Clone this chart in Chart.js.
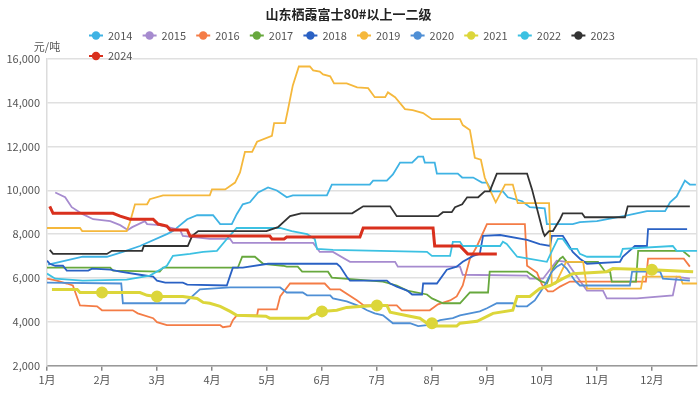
<!DOCTYPE html>
<html>
<head>
<meta charset="utf-8">
<script src="https://cdn.jsdelivr.net/npm/chart.js@4"></script>
<style>
  html, body { margin: 0; padding: 0; background: #fff; }
  #wrap { width: 700px; height: 417px; }
</style>
</head>
<body>
<div id="wrap"><canvas id="chart"></canvas></div>
<script>
// x = month position (0 = 1月初), y = price 元/吨
const monthLabels = ["1月", "2月", "3月", "4月", "5月", "6月", "7月", "8月", "9月", "10月", "11月", "12月"];
const years = ["2014", "2015", "2016", "2017", "2018", "2019", "2020", "2021", "2022", "2023", "2024"];
const colors = ["#3fb3e4", "#a68bcf", "#f47c46", "#67a83d", "#2a61c4", "#f5b83c", "#4f8fd5", "#dcd63a", "#3cc1e2", "#333333", "#d9301d"];
const xEnd = 11.82;

const s2014 = [[0.02,6610],[0.18,6700],[0.65,6970],[1.09,6970],[1.38,7190],[1.69,7460],[2.18,8000],[2.29,8140],[2.55,8680],[2.73,8860],[3.02,8860],[3.15,8460],[3.36,8460],[3.45,8910],[3.56,9360],[3.69,9450],[3.84,9900],[4.02,10130],[4.18,9990],[4.36,9680],[4.47,9770],[5.09,9770],[5.18,10260],[5.87,10260],[5.93,10440],[6.18,10440],[6.29,10720],[6.42,11260],[6.64,11260],[6.75,11530],[6.84,11530],[6.87,11260],[7.05,11260],[7.09,10760],[7.47,10760],[7.55,10580],[7.75,10580],[7.91,10350],[8.0,10350],[8.09,9950],[8.29,9950],[8.38,9680],[8.64,9500],[8.78,9230],[9.05,9180],[9.09,8460],[9.56,8460],[9.69,8550],[10.0,8590],[10.55,8860],[10.91,9050],[11.24,9050],[11.33,9450],[11.45,9720],[11.6,10440],[11.69,10260],[11.8,10260]];
const s2015 = [[0.15,9900],[0.33,9680],[0.45,9230],[0.65,8910],[0.84,8680],[1.15,8590],[1.33,8410],[1.47,8190],[1.55,8320],[1.78,8590],[1.82,8460],[2.05,8410],[2.42,8190],[2.47,7920],[2.96,7780],[3.33,7780],[3.38,7600],[4.84,7600],[4.96,7190],[5.2,7190],[5.51,6740],[6.33,6740],[6.38,6520],[7.51,6520],[7.56,6150],[8.73,6110],[8.78,5970],[9.02,5970],[9.27,6790],[9.45,6740],[9.69,5880],[9.82,5430],[10.11,5430],[10.18,5070],[10.73,5070],[11.38,5210],[11.45,6060],[11.69,5970]];
const s2016 = [[0,5970],[0.18,5880],[0.36,5750],[0.47,5660],[0.6,4750],[0.91,4710],[1.0,4530],[1.56,4530],[1.65,4390],[1.93,4170],[2.0,3990],[2.18,3850],[3.15,3850],[3.2,3760],[3.33,3810],[3.38,4080],[3.45,4300],[3.82,4300],[3.84,4570],[4.18,4570],[4.24,5160],[4.42,5750],[5.05,5750],[5.15,5480],[5.33,5480],[5.64,4980],[5.76,4750],[6.36,4750],[6.45,4530],[6.96,4530],[7.11,4800],[7.33,4980],[7.45,5160],[7.56,5660],[7.69,6880],[7.82,7460],[8.0,8460],[8.69,8460],[8.73,6560],[8.91,6250],[9.0,5700],[9.11,5390],[9.2,5390],[9.33,5610],[9.51,5840],[10.89,5840],[10.93,6880],[11.58,6880],[11.69,6520]];
const s2017 = [[0,6470],[1.15,6470],[1.2,6340],[2.05,6290],[2.11,6470],[3.47,6470],[3.55,6970],[3.78,6970],[3.93,6650],[4.29,6560],[4.36,6520],[4.56,6520],[4.64,6290],[5.11,6290],[5.18,6020],[6.11,5840],[6.36,5660],[6.55,5430],[6.91,5250],[7.0,5070],[7.2,4850],[7.51,4850],[7.69,5340],[8.02,5340],[8.05,6290],[8.73,6290],[8.96,5880],[9.09,5750],[9.2,6430],[9.33,6880],[9.38,6970],[9.45,6740],[10.02,6740],[10.15,6290],[10.24,6290],[10.27,5840],[10.71,5840],[10.75,7240],[11.56,7240],[11.69,6970]];
const s2018 = [[0,6790],[0.05,6650],[0.15,6560],[0.29,6560],[0.36,6340],[0.75,6340],[0.82,6430],[1.15,6380],[1.33,6290],[1.69,6150],[1.93,6060],[2.0,5880],[2.15,5790],[2.47,5790],[2.55,5700],[3.27,5660],[3.33,6110],[3.38,6470],[3.56,6470],[4.02,6650],[5.27,6650],[5.33,6520],[5.45,6060],[5.51,5880],[6.18,5880],[6.24,5750],[6.36,5610],[6.55,5430],[6.64,5250],[6.82,5250],[6.84,5750],[7.09,5750],[7.27,6380],[7.45,6520],[7.56,6740],[7.75,7010],[7.87,7100],[7.93,7920],[8.24,7960],[8.73,7740],[8.96,7550],[9.15,7460],[9.18,7920],[9.38,7920],[9.45,7650],[9.56,7190],[9.69,6880],[9.82,6650],[10.42,6740],[10.47,6970],[10.69,7460],[10.91,7460],[10.93,8230],[11.64,8230]];
const s2019 = [[0,8280],[0.6,8280],[0.64,8140],[1.45,8140],[1.51,8550],[1.6,9360],[1.82,9360],[1.87,9590],[2.11,9770],[2.96,9770],[3.0,10040],[3.24,10040],[3.42,10350],[3.51,10810],[3.6,11750],[3.73,11750],[3.82,12210],[4.09,12480],[4.13,13060],[4.33,13060],[4.38,13650],[4.47,14780],[4.58,15640],[4.78,15640],[4.84,15460],[4.96,15410],[5.02,15280],[5.15,15190],[5.22,14870],[5.45,14870],[5.64,14690],[5.84,14650],[5.96,14240],[6.15,14240],[6.2,14460],[6.33,14240],[6.51,13700],[6.65,13650],[6.84,13520],[7.0,13240],[7.51,13240],[7.56,12970],[7.69,12750],[7.78,11480],[7.89,11390],[7.96,10580],[8.05,10040],[8.16,9450],[8.33,10260],[8.47,10260],[8.56,9410],[9.13,9410],[9.18,5700],[9.25,5750],[9.44,6740],[9.75,6740],[9.82,5520],[10.8,5520],[10.84,6060],[11.51,6060],[11.56,5750],[11.82,5750]];
const s2020 = [[0,5790],[1.35,5750],[1.38,4850],[2.51,4850],[2.6,5070],[2.78,5480],[3.33,5570],[4.24,5570],[4.36,5340],[4.65,5340],[4.73,5210],[5.15,5210],[5.2,5070],[5.45,4940],[5.69,4710],[5.82,4530],[5.96,4390],[6.11,4300],[6.29,3940],[6.6,3940],[6.75,3810],[6.91,3850],[7.15,4080],[7.38,4170],[7.51,4300],[7.87,4480],[8.0,4620],[8.18,4850],[8.47,4850],[8.55,4710],[8.73,4710],[8.87,4980],[9.05,5660],[9.18,6290],[9.27,6520],[9.36,6650],[9.45,6430],[9.6,5880],[9.69,5660],[10.6,5660],[10.64,6290],[11.15,6290],[11.2,5970],[11.69,5880]];
const s2021 = [[0.09,5480],[0.55,5480],[0.6,5340],[1,5340],[1.69,5340],[1.82,5210],[2,5160],[2.47,5160],[2.73,5070],[2.84,4890],[2.96,4850],[3.15,4710],[3.33,4480],[3.45,4300],[3.98,4260],[4.05,4170],[4.75,4170],[4.82,4300],[5,4480],[5.27,4530],[5.45,4660],[5.75,4710],[6,4750],[6.18,4750],[6.24,4440],[6.6,4260],[6.78,4170],[6.91,3940],[7,3940],[7.07,3810],[7.45,3810],[7.51,3940],[7.82,4030],[8.11,4390],[8.47,4530],[8.55,5160],[8.78,5160],[8.96,5520],[9.15,5660],[9.38,5970],[9.56,6200],[10.18,6290],[10.29,6430],[11,6380],[11.75,6290]];
const s2022 = [[0,6200],[0.15,5970],[0.65,5880],[1.45,5930],[1.87,6110],[2.18,6560],[2.29,7010],[2.6,7100],[2.84,7190],[3.09,7240],[3.27,7780],[3.45,8280],[4.24,8280],[4.45,8140],[4.73,8000],[4.87,7780],[4.91,7330],[5.2,7280],[6.91,7190],[7.0,7010],[7.33,7010],[7.38,7650],[7.51,7650],[7.56,7460],[8.24,7460],[8.29,7650],[8.36,7550],[8.55,6970],[9.09,6740],[9.2,7330],[9.29,7780],[9.38,7780],[9.51,7330],[9.64,7330],[9.69,7100],[9.82,6970],[10.42,6970],[10.47,7330],[11.38,7460],[11.45,7240],[11.82,7240]];
const s2023 = [[0.05,7280],[0.11,7100],[1.09,7100],[1.18,7240],[1.73,7240],[1.76,7460],[2.56,7460],[2.64,7920],[2.75,8140],[3.99,8140],[4.2,8320],[4.42,8820],[4.62,8950],[5.55,8950],[5.75,9270],[6.24,9270],[6.36,8820],[7.11,8820],[7.2,9000],[7.36,9000],[7.42,9230],[7.55,9360],[7.64,9680],[7.84,9680],[7.96,9950],[8.05,9950],[8.18,10760],[8.73,10760],[8.82,10040],[9.02,8100],[9.05,7920],[9.13,8140],[9.2,8140],[9.33,8680],[9.38,8950],[9.73,8950],[9.78,8770],[10.51,8770],[10.56,9270],[11.69,9270]];
const s2024 = [[0.05,9270],[0.11,8950],[1.2,8950],[1.33,8820],[1.51,8680],[1.93,8680],[2.02,8460],[2.18,8370],[2.24,8190],[2.55,8190],[2.6,7920],[4.05,7920],[4.09,7780],[4.31,7780],[4.36,7870],[5.69,7870],[5.75,8280],[7.02,8280],[7.05,7460],[7.51,7460],[7.65,7100],[8.18,7100]];

const series = [s2014, s2015, s2016, s2017, s2018, s2019, s2020, s2021, s2022, s2023, s2024];

// thick lines for 2021 and 2024, others normal
const datasets = years.map((y, i) => ({
  label: y,
  data: series[i].map(p => ({ x: p[0], y: p[1] })),
  borderColor: colors[i],
  backgroundColor: colors[i],
  borderWidth: (y === "2024" || y === "2021") ? 3 : 1.8,
  pointRadius: y === "2021" ? (ctx => Number.isInteger(ctx.raw && ctx.raw.x) ? 4.5 : 0) : 0,
  pointHoverRadius: 0,
  tension: 0,
  fill: false,
  order: years.length - i
}));

// legend in echarts style: line + dot, rows of 10, left aligned
const legendPlugin = {
  id: "echartsLegend",
  afterDraw(chart) {
    const ctx = chart.ctx;
    ctx.save();
    ctx.font = "11px 'Noto Sans CJK SC', sans-serif";
    ctx.textBaseline = "middle";
    years.forEach((y, i) => {
      const col = i % 10, row = Math.floor(i / 10);
      const x0 = 89 + col * 53.6;
      const cy = 35.5 + row * 20.5;
      ctx.strokeStyle = colors[i];
      ctx.lineWidth = 2;
      ctx.beginPath();
      ctx.moveTo(x0, cy);
      ctx.lineTo(x0 + 14, cy);
      ctx.stroke();
      ctx.fillStyle = colors[i];
      ctx.beginPath();
      ctx.arc(x0 + 7, cy, 4.2, 0, Math.PI * 2);
      ctx.fill();
      ctx.fillStyle = "#555";
      ctx.textAlign = "left";
      ctx.fillText(y, x0 + 19, cy);
    });
    // unit label
    ctx.fillStyle = "#555";
    ctx.textAlign = "center";
    ctx.fillText("元/吨", 47, 47);
    ctx.restore();
  }
};

new Chart(document.getElementById("chart"), {
  type: "line",
  data: { datasets },
  plugins: [legendPlugin],
  options: {
    responsive: true,
    maintainAspectRatio: false,
    animation: false,
    layout: { padding: { left: 0, right: 3, top: 0, bottom: 29 } },
    plugins: {
      legend: { display: false },
      tooltip: { enabled: false },
      title: {
        display: true,
        text: "山东栖霞富士80#以上一二级",
        color: "#222",
        font: { size: 13, weight: "bold", family: "'Noto Sans CJK SC', sans-serif" },
        padding: { top: 6, bottom: 37 }
      }
    },
    scales: {
      x: {
        type: "linear",
        min: 0,
        max: xEnd,
        // month ticks plus the right edge (used as the frame line)
        afterBuildTicks: s => {
          s.ticks = monthLabels.map((m, i) => ({ value: i })).concat([{ value: xEnd }]);
        },
        ticks: {
          autoSkip: false,
          maxRotation: 0,
          padding: 2,
          color: "#555",
          font: { size: 11, family: "'Noto Sans CJK SC', sans-serif" },
          callback: v => Number.isInteger(v) ? monthLabels[v] : ""
        },
        grid: {
          color: ctx => (ctx.tick && !Number.isInteger(ctx.tick.value)) ? "#e2e2e2" : "rgba(0,0,0,0)",
          tickColor: ctx => (ctx.tick && Number.isInteger(ctx.tick.value)) ? "#888" : "rgba(0,0,0,0)",
          lineWidth: 1.5,
          tickLength: 5
        },
        border: { color: "#999", width: 1.5 }
      },
      y: {
        min: 2000,
        max: 16000,
        ticks: {
          stepSize: 2000,
          padding: 7,
          color: "#555",
          font: { size: 11, family: "'Noto Sans CJK SC', sans-serif" },
          callback: v => v.toLocaleString("en-US")
        },
        grid: { color: "#e0e0e0", lineWidth: 1.5, drawTicks: false },
        border: { color: "#dcdcdc", width: 1.5 },
        afterFit: s => { s.width = 47; }
      }
    }
  }
});
</script>
</body>
</html>
